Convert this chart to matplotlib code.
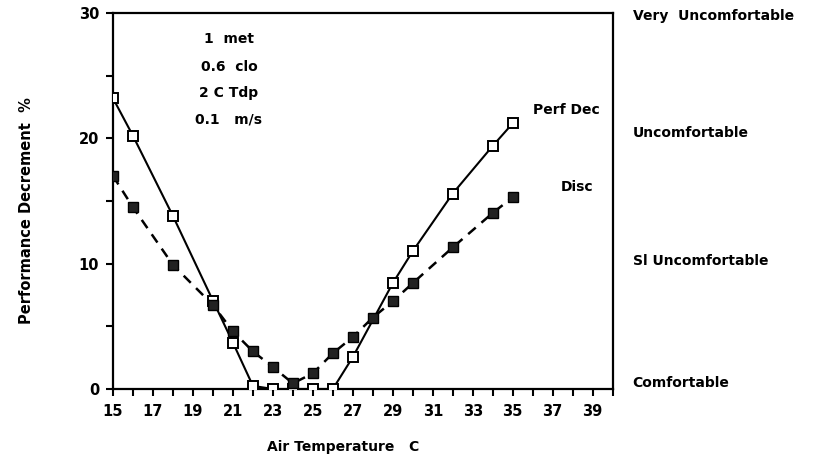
import numpy as np
import matplotlib
matplotlib.use('Agg')
import matplotlib.pyplot as plt
from matplotlib.ticker import MultipleLocator

plt.rcParams['font.family'] = ['DejaVu Sans']
plt.rcParams['font.weight'] = 'bold'

# Performance decrement (open squares, solid line)
perf_temp = [15, 16, 18, 20, 21, 22, 23, 24, 25, 26, 27, 29, 30, 32, 34, 35]
perf_dec = [23.2, 20.2, 13.8, 7.05, 3.7, 0.25, 0, 0, 0, 0, 2.55, 8.45, 11.0, 15.6, 19.4, 21.2]

# Discomfort (filled squares, dashed line)
disc_temp = [15, 16, 18, 20, 21, 22, 23, 24, 25, 26, 27, 28, 29, 30, 32, 34, 35]
disc_val = [17.0, 14.5, 9.9, 6.7, 4.6, 3.0, 1.75, 0.45, 1.25, 2.85, 4.15, 5.7, 7.0, 8.45, 11.3, 14.05, 15.3]

comfort_levels = [0, 10, 20, 30]
comfort_labels = ['Comfortable', 'Sl Uncomfortable', 'Uncomfortable', 'Very  Uncomfortable']

conditions = ['1  met', '0.6  clo', '2 C Tdp', '0.1   m/s']

fig = plt.figure(figsize=(8.19, 4.59), dpi=100)
ax = fig.add_axes([0.138, 0.1525, 0.61, 0.819])

ax.plot(perf_temp, perf_dec, color='black', lw=1.5, marker='s', markersize=7,
        markerfacecolor='white', markeredgecolor='black', markeredgewidth=1.4, zorder=3)
ax.plot(disc_temp, disc_val, color='black', lw=1.8, linestyle=(0, (4, 3)), marker='s',
        markersize=7, markerfacecolor='#222222', markeredgecolor='black', zorder=4)

ax.set_xlim(15, 40)
ax.set_ylim(0, 30)
ax.xaxis.set_minor_locator(MultipleLocator(1))
ax.yaxis.set_major_locator(MultipleLocator(10))
ax.yaxis.set_minor_locator(MultipleLocator(5))
ax.set_xticks(np.arange(15, 40, 2))
ax.tick_params(axis='both', which='both', direction='out', length=5, width=1.5, labelsize=10.5)
ax.tick_params(axis='x', pad=6)
ax.tick_params(axis='y', pad=5)
for sp in ax.spines.values():
    sp.set_linewidth(1.6)

ax.set_xlabel('Air Temperature   C', fontsize=10, fontweight='bold')
ax.xaxis.set_label_coords(0.46, -0.135)
ax.set_ylabel('Performance Decrement  %', fontsize=10.5, fontweight='bold')
ax.yaxis.set_label_coords(-0.158, 0.476)

# right-hand comfort scale
label_y = [0.5, 10.2, 20.4, 29.8]
for txt, yy in zip(comfort_labels, label_y):
    ax.text(1.04, yy, txt, transform=ax.get_yaxis_transform(), ha='left', va='center',
            fontsize=10, fontweight='bold')

# conditions text block
cond_y = [27.9, 25.7, 23.6, 21.5]
for txt, yy in zip(conditions, cond_y):
    ax.text(20.8, yy, txt, ha='center', va='center', fontsize=10, fontweight='bold')

ax.text(37.7, 22.3, 'Perf Dec', ha='center', va='center', fontsize=10, fontweight='bold')
ax.text(38.2, 16.1, 'Disc', ha='center', va='center', fontsize=10, fontweight='bold')

fig.savefig('out.png', dpi=100)
